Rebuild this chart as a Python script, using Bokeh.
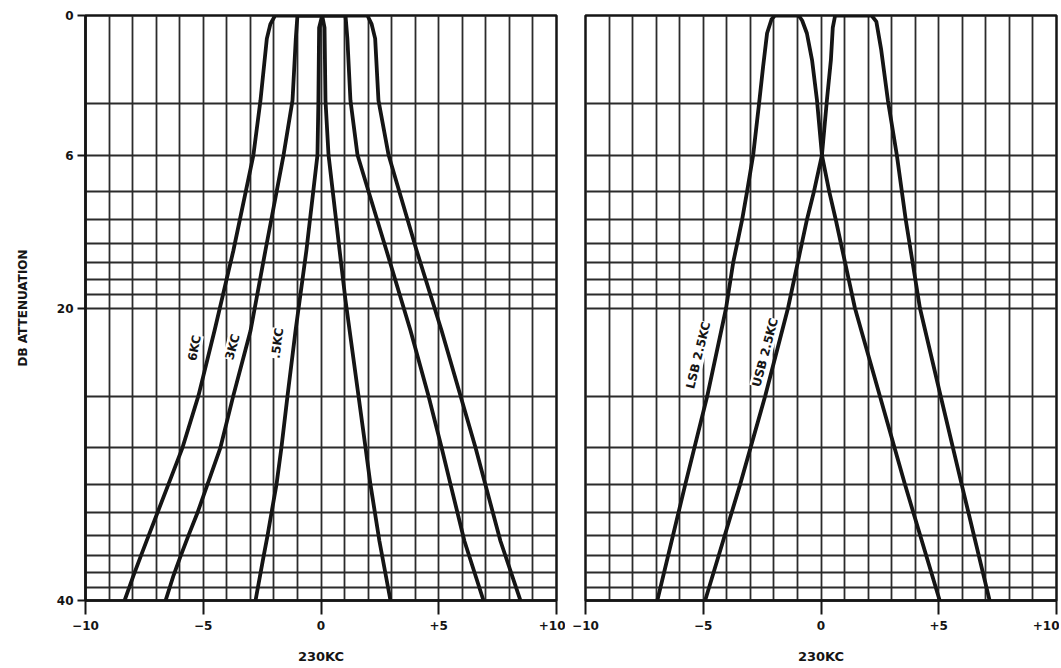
from bokeh.plotting import figure
from bokeh.models import Range1d, FixedTicker, Label
from bokeh.layouts import row
from bokeh.embed import file_html
from bokeh.resources import INLINE

# ---- axes / ticks ----
x_ticks = [-10, -5, 0, 5, 10]
x_tick_labels = ["\u221210", "\u22125", "0", "+5", "+10"]
y_ticks = [1, 3, 10, 100]            # positions on the 2-cycle log paper
y_tick_labels = ["0", "6", "20", "40"]
x_grid = list(range(-10, 11))
y_grid = [1, 2, 3, 4, 5, 6, 7, 8, 9, 10, 20, 30, 40, 50, 60, 70, 80, 90, 100]
x_title = "230KC"
y_title = "DB ATTENUATION"

# ---- left panel curves (x in kc off 230KC, r = log-paper attenuation value) ----
c6_x = [-8.34, -7.96, -7.66, -7.32, -6.94, -6.48, -5.88, -5.20, -4.52, -3.72, -2.87,
        -2.57, -2.3, -2.15, -1.95, 1.97, 2.15, 2.3, 2.44, 2.87, 4.06, 5.12, 5.92,
        6.56, 7.62, 8.47]
c6_r = [100, 82, 70.8, 60, 50, 40.1, 30, 19.9, 11.94, 6.36, 3.0,
        1.95, 1.2, 1.07, 1.0, 1.0, 1.07, 1.2, 1.95, 3.0, 6.36, 11.94, 19.9,
        30, 62.6, 100]

c3_x = [-6.60, -6.26, -5.97, -5.63, -5.24, -4.82, -4.27, -3.72, -2.99, -2.36, -1.59,
        -1.21, -1.07, -1.0, 1.04, 1.12, 1.25, 1.55, 2.78, 3.80, 4.56, 5.12, 5.50,
        6.09, 6.90]
c3_r = [100, 82, 70.8, 60, 50, 40.1, 30, 19.9, 11.94, 6.36, 3.0,
        1.95, 1.2, 1.0, 1.0, 1.2, 1.95, 3.0, 6.36, 11.94, 19.9, 30, 40.1,
        62.6, 100]

c05_x = [-2.78, -2.44, -2.27, -2.10, -1.89, -1.68, -1.42, -1.08, -0.62, -0.15, -0.11,
         -0.08, 0.05, 0.15, 0.19, 0.32, 0.79, 1.04, 1.59, 1.89, 2.10, 2.48, 2.95]
c05_r = [100, 70.8, 60, 50, 40.1, 30, 19.9, 11.94, 6.36, 3.0, 1.95,
         1.1, 1.0, 1.1, 1.95, 3.0, 6.36, 9.4, 19.9, 30, 40.1, 62.6, 100]

# ---- right panel curves ----
lsb_x = [-6.95, -5.76, -4.83, -4.03, -3.73, -3.35, -3.14, -2.88, -2.63, -2.46, -2.29,
         -2.1, -1.95, -0.95, -0.8, -0.6, -0.38, -0.17, 0.04, 0.35, 0.63, 1.44, 2.5,
         3.56, 5.04]
lsb_r = [100, 40, 20, 10, 7, 5, 4, 3, 2, 1.5, 1.15,
         1.03, 1.0, 1.0, 1.04, 1.15, 1.42, 1.95, 3, 4, 5, 10, 20,
         40, 100]

usb_x = [-4.92, -3.43, -2.37, -1.4, -0.6, -0.3, 0.04, 0.25, 0.42, 0.5, 0.6,
         2.15, 2.35, 2.55, 2.84, 3.22, 3.6, 4.2, 5.08, 5.97, 7.16]
usb_r = [100, 40, 20, 10, 5, 4, 3, 1.95, 1.42, 1.1, 1.0,
         1.0, 1.05, 1.3, 1.95, 3, 5, 10, 20, 40, 100]

# ---- curve labels ----
left_label_text = ["6KC", "3KC", ".5KC"]
left_label_x = [-5.37, -3.76, -1.85]
left_label_r = [13.7, 13.6, 13.2]
left_label_angle = [1.38, 1.31, 1.45]

right_label_text = ["LSB 2.5KC", "USB 2.5KC"]
right_label_x = [-5.21, -2.37]
right_label_r = [14.5, 14.2]
right_label_angle = [1.33, 1.31]

FONT = "DejaVu Sans"
INK = "#151515"
GRID = "#2b2b2b"
FW, FH = 471, 585


def make_panel(border_left, border_right, show_y):
    p = figure(width=border_left + FW + border_right, height=15 + FH + 66,
               frame_width=FW, frame_height=FH,
               x_range=Range1d(-10, 10), y_range=Range1d(100, 1),
               y_axis_type="log", output_backend="svg", toolbar_location=None,
               min_border_left=border_left, min_border_right=border_right,
               min_border_top=15, min_border_bottom=66)
    p.background_fill_color = "white"
    p.border_fill_color = "white"
    p.outline_line_color = INK
    p.outline_line_width = 2.5

    p.xgrid.ticker = FixedTicker(ticks=x_grid)
    p.ygrid.ticker = FixedTicker(ticks=y_grid)
    for g in (p.xgrid, p.ygrid):
        g.grid_line_color = GRID
        g.grid_line_width = 1.8

    xa = p.xaxis[0]
    xa.ticker = FixedTicker(ticks=x_ticks)
    xa.major_label_overrides = {t: s for t, s in zip(x_ticks, x_tick_labels)}
    xa.axis_label = x_title
    xa.axis_label_text_font = FONT
    xa.axis_label_text_font_style = "bold"
    xa.axis_label_text_font_size = "13px"
    xa.axis_label_text_color = INK
    xa.axis_label_standoff = 16
    xa.major_label_text_font = FONT
    xa.major_label_text_font_style = "bold"
    xa.major_label_text_font_size = "12px"
    xa.major_label_text_color = INK
    xa.major_label_standoff = 6
    xa.major_tick_out = 14
    xa.major_tick_in = 0
    xa.major_tick_line_width = 2
    xa.major_tick_line_color = INK
    xa.minor_tick_line_color = None
    xa.axis_line_color = INK
    xa.axis_line_width = 2.5

    ya = p.yaxis[0]
    if show_y:
        ya.ticker = FixedTicker(ticks=y_ticks)
        ya.major_label_overrides = {t: s for t, s in zip(y_ticks, y_tick_labels)}
        ya.axis_label = y_title
        ya.axis_label_text_font = FONT
        ya.axis_label_text_font_style = "bold"
        ya.axis_label_text_font_size = "12px"
        ya.axis_label_text_color = INK
        ya.axis_label_standoff = 24
        ya.major_label_text_font = FONT
        ya.major_label_text_font_style = "bold"
        ya.major_label_text_font_size = "12px"
        ya.major_label_text_color = INK
        ya.major_label_standoff = 4
        ya.major_tick_out = 8
        ya.major_tick_in = 0
        ya.major_tick_line_width = 2
        ya.major_tick_line_color = INK
        ya.minor_tick_line_color = None
        ya.axis_line_color = INK
        ya.axis_line_width = 2.5
    else:
        ya.visible = False
    return p


def add_labels(p, texts, xs, rs, angles):
    for t, x, r, a in zip(texts, xs, rs, angles):
        p.add_layout(Label(x=x, y=r, text=t, angle=a, text_font=FONT,
                           text_font_style="bold", text_font_size="12px",
                           text_color=INK, text_align="center",
                           text_baseline="middle", background_fill_color="white",
                           background_fill_alpha=1.0))


p1 = make_panel(85, 9, True)
for xs, rs in ((c6_x, c6_r), (c3_x, c3_r), (c05_x, c05_r)):
    p1.line(xs, rs, line_color=INK, line_width=3.8, line_join="round", line_cap="round")
add_labels(p1, left_label_text, left_label_x, left_label_r, left_label_angle)

p2 = make_panel(20, 3, False)
for xs, rs in ((lsb_x, lsb_r), (usb_x, usb_r)):
    p2.line(xs, rs, line_color=INK, line_width=3.8, line_join="round", line_cap="round")
add_labels(p2, right_label_text, right_label_x, right_label_r, right_label_angle)

layout = row(p1, p2)
open("out.html", "w").write(file_html(layout, INLINE))
